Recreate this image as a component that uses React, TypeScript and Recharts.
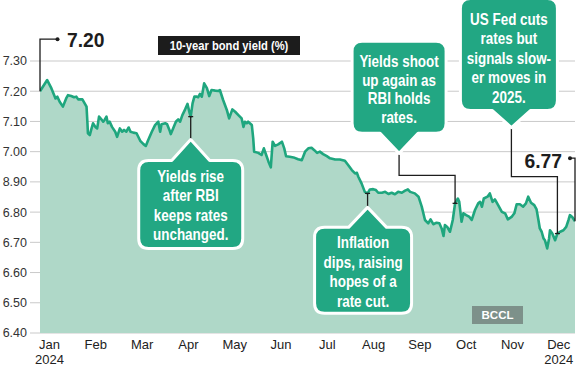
import { AreaChart, Area, XAxis, YAxis, CartesianGrid, ReferenceDot } from 'recharts';

// x position in months (0 = Jan, 11 = Dec), 10-year G-sec yield in %
const monthPos = [
  -0.205, -0.05, 0.04, 0.13, 0.17, 0.22, 0.29, 0.36, 0.40, 0.47,
  0.53, 0.58, 0.62, 0.71, 0.76, 0.80, 0.82, 0.83, 0.87, 0.90,
  0.94, 0.99, 1.03, 1.07, 1.12, 1.16, 1.19, 1.23, 1.26, 1.30,
  1.35, 1.42, 1.46, 1.52, 1.57, 1.61, 1.66, 1.71, 1.75, 1.81,
  1.88, 1.96, 2.03, 2.08, 2.13, 2.21, 2.28, 2.35, 2.39, 2.42,
  2.50, 2.54, 2.59, 2.62, 2.67, 2.73, 2.78, 2.82, 2.87, 2.93,
  2.98, 3.02, 3.05, 3.09, 3.13, 3.18, 3.21, 3.25, 3.29, 3.34,
  3.40, 3.45, 3.50, 3.58, 3.65, 3.68, 3.75, 3.83, 3.88, 3.95,
  4.01, 4.08, 4.15, 4.19, 4.22, 4.26, 4.29, 4.37, 4.40, 4.42,
  4.51, 4.58, 4.63, 4.68, 4.73, 4.78, 4.82, 4.87, 4.94, 5.02,
  5.07, 5.11, 5.19, 5.27, 5.37, 5.45, 5.52, 5.59, 5.66, 5.72,
  5.78, 5.84, 5.91, 5.99, 6.06, 6.17, 6.27, 6.38, 6.45, 6.53,
  6.60, 6.64, 6.67, 6.74, 6.81, 6.87, 6.92, 6.99, 7.05, 7.10,
  7.18, 7.25, 7.32, 7.39, 7.46, 7.53, 7.61, 7.68, 7.74, 7.79,
  7.89, 7.97, 8.04, 8.11, 8.18, 8.23, 8.29, 8.36, 8.42, 8.47,
  8.51, 8.54, 8.59, 8.65, 8.71, 8.76, 8.82, 8.85, 8.90, 8.94,
  9.00, 9.07, 9.12, 9.19, 9.26, 9.30, 9.34, 9.38, 9.46, 9.51,
  9.57, 9.62, 9.69, 9.77, 9.84, 9.90, 9.98, 10.04, 10.09, 10.16,
  10.23, 10.29, 10.34, 10.40, 10.47, 10.52, 10.56, 10.59, 10.63, 10.67,
  10.70, 10.75, 10.79, 10.81, 10.86, 10.92, 10.97, 11.03, 11.10, 11.16,
  11.21, 11.24, 11.29, 11.35,
];

const yields = [
  7.200, 7.237, 7.210, 7.176, 7.182, 7.165, 7.149, 7.176, 7.187, 7.184,
  7.180, 7.182, 7.173, 7.173, 7.160, 7.149, 7.094, 7.061, 7.055, 7.072,
  7.094, 7.082, 7.077, 7.116, 7.107, 7.099, 7.105, 7.116, 7.094, 7.099,
  7.082, 7.066, 7.049, 7.077, 7.066, 7.072, 7.066, 7.080, 7.066, 7.063,
  7.061, 7.036, 7.025, 7.019, 7.038, 7.066, 7.088, 7.099, 7.066, 7.091,
  7.094, 7.091, 7.072, 7.058, 7.077, 7.099, 7.107, 7.099, 7.121, 7.140,
  7.158, 7.132, 7.116, 7.160, 7.182, 7.182, 7.180, 7.191, 7.182, 7.226,
  7.210, 7.184, 7.204, 7.202, 7.201, 7.204, 7.171, 7.138, 7.110, 7.140,
  7.132, 7.121, 7.110, 7.082, 7.099, 7.094, 7.099, 7.088, 7.044, 7.000,
  6.996, 6.989, 7.011, 6.989, 6.967, 6.948, 7.033, 7.019, 7.024, 7.033,
  7.011, 6.985, 6.983, 6.981, 6.975, 6.972, 7.000, 7.011, 7.013, 7.005,
  6.996, 7.000, 6.992, 6.985, 6.978, 6.974, 6.974, 6.970, 6.956, 6.939,
  6.928, 6.930, 6.917, 6.895, 6.867, 6.862, 6.875, 6.876, 6.873, 6.864,
  6.864, 6.867, 6.860, 6.864, 6.859, 6.867, 6.864, 6.871, 6.875, 6.867,
  6.862, 6.851, 6.818, 6.774, 6.763, 6.776, 6.760, 6.765, 6.763, 6.746,
  6.721, 6.757, 6.751, 6.735, 6.774, 6.829, 6.845, 6.834, 6.768, 6.796,
  6.790, 6.784, 6.774, 6.807, 6.829, 6.834, 6.818, 6.845, 6.851, 6.862,
  6.834, 6.842, 6.823, 6.801, 6.796, 6.776, 6.784, 6.796, 6.826, 6.826,
  6.818, 6.829, 6.851, 6.831, 6.823, 6.809, 6.774, 6.746, 6.735, 6.713,
  6.707, 6.680, 6.713, 6.740, 6.729, 6.707, 6.729, 6.735, 6.740, 6.751,
  6.774, 6.790, 6.784, 6.770,
];

const monthTicks = [0, 1, 2, 3, 4, 5, 6, 7, 8, 9, 10, 11];
const monthLabels = ['Jan', 'Feb', 'Mar', 'Apr', 'May', 'Jun', 'Jul', 'Aug', 'Sep', 'Oct', 'Nov', 'Dec'];
const yearLabels = ['2024', '', '', '', '', '', '', '', '', '', '', '2024'];
const yTicks = [6.4, 6.5, 6.6, 6.7, 6.8, 6.9, 7.0, 7.1, 7.2, 7.3];
const yTickLabels = ['6.40', '6.50', '6.60', '6.70', '6.80', '8.90', '7.00', '7.10', '7.20', '7.30'];

// indexes of annotated points
const RISE = 62;
const INFLATION = 125;
const SHOOT = 155;
const FED = 196;
const LAST = yields.length - 1;

const data = monthPos.map((m, i) => ({ m, y: yields[i] }));

const LINE = '#1fa67e';
const FILL = '#afd8c8';
const BOX = '#22a783';
const INK = '#1d1d1d';
const SANS = "'Liberation Sans', Arial, sans-serif";
const SQUEEZE = 0.84;

function calloutPath(x: number, y: number, w: number, h: number, ax: number, ay: number, dir: 'up' | 'down') {
  const r = 10;
  const half = 19;
  let d = `M${x + r},${y}`;
  if (dir === 'up') d += ` L${ax - half},${y} L${ax},${ay} L${ax + half},${y}`;
  d += ` L${x + w - r},${y} Q${x + w},${y} ${x + w},${y + r} L${x + w},${y + h - r} Q${x + w},${y + h} ${x + w - r},${y + h}`;
  if (dir === 'down') d += ` L${ax + half},${y + h} L${ax},${ay} L${ax - half},${y + h}`;
  d += ` L${x + r},${y + h} Q${x},${y + h} ${x},${y + h - r} L${x},${y + r} Q${x},${y} ${x + r},${y} Z`;
  return d;
}

interface CalloutCfg {
  stem: [number, number][];
  box: { x: number; y: number; w: number; h: number };
  dir: 'up' | 'down';
  lines: string[];
  first: number;
  gap: number;
}

function Callout({ cx, cy, cfg }: { cx: number; cy: number; cfg: CalloutCfg }) {
  const pts = cfg.stem.map(([dx, dy]) => [cx + dx, cy + dy]);
  const [ax, ay] = pts[pts.length - 1];
  const bx = cx + cfg.box.x;
  const by = cy + cfg.box.y;
  const mid = bx + cfg.box.w / 2;
  return (
    <g>
      <polyline points={pts.map((p) => p.join(',')).join(' ')} fill="none" stroke={INK} strokeWidth={1.3} />
      <line x1={cx - 2.5} x2={cx + 2.5} y1={cy} y2={cy} stroke={INK} strokeWidth={1.3} />
      <path d={calloutPath(bx, by, cfg.box.w, cfg.box.h, ax, ay, cfg.dir)} fill={BOX} stroke="#fff" strokeWidth={3} strokeLinejoin="round" />
      <text
        transform={`translate(${mid},${by}) scale(${SQUEEZE},1)`}
        fill="#fff"
        fontFamily={SANS}
        fontWeight={700}
        fontSize={16}
        textAnchor="middle"
      >
        {cfg.lines.map((l, i) => (
          <tspan key={i} x={0} y={cfg.first + i * cfg.gap}>{l}</tspan>
        ))}
      </text>
    </g>
  );
}

const riseCfg: CalloutCfg = {
  stem: [[0, 0], [0, 23]],
  box: { x: -52, y: 44, w: 104, h: 88 },
  dir: 'up',
  lines: ['Yields rise', 'after RBI', 'keeps rates', 'unchanged.'],
  first: 21,
  gap: 19.5,
};
const inflationCfg: CalloutCfg = {
  stem: [[0, 0], [0, 14]],
  box: { x: -53, y: 34, w: 97, h: 86 },
  dir: 'up',
  lines: ['Inflation', 'dips, raising', 'hopes of a', 'rate cut.'],
  first: 21,
  gap: 19.5,
};
const shootCfg: CalloutCfg = {
  stem: [[0, 0], [0, -28], [-56, -28], [-56, -50]],
  box: { x: -103, y: -162, w: 94, h: 92 },
  dir: 'down',
  lines: ['Yields shoot', 'up again as', 'RBI holds', 'rates.'],
  first: 26,
  gap: 18.5,
};
const fedCfg: CalloutCfg = {
  stem: [[0, 0], [0, -57], [-46, -57], [-46, -106]],
  box: { x: -97, y: -235, w: 97, h: 112 },
  dir: 'down',
  lines: ['US Fed cuts', 'rates but', 'signals slow-', 'er moves in', '2025.'],
  first: 26,
  gap: 19.5,
};

function FirstLabel({ cx, cy }: { cx: number; cy: number }) {
  return (
    <g>
      <polyline points={`${cx},${cy} ${cx},${cy - 52} ${cx + 17},${cy - 52}`} fill="none" stroke={INK} strokeWidth={1.3} />
      <circle cx={cx + 17.5} cy={cy - 52} r={2} fill={INK} />
      <text transform={`translate(${cx + 27},${cy - 44}) scale(0.92,1)`} fill={INK} fontFamily={SANS} fontWeight={700} fontSize={21}>7.20</text>
    </g>
  );
}

function LastLabel({ cx, cy }: { cx: number; cy: number }) {
  return (
    <g>
      <polyline points={`${cx},${cy} ${cx},${cy - 63} ${cx - 5},${cy - 63}`} fill="none" stroke={INK} strokeWidth={1.3} />
      <circle cx={cx - 5} cy={cy - 63} r={2} fill={INK} />
      <text transform={`translate(${cx - 13},${cy - 53}) scale(0.92,1)`} fill={INK} fontFamily={SANS} fontWeight={700} fontSize={21} textAnchor="end">6.77</text>
    </g>
  );
}

function MonthTick({ x, y, payload }: any) {
  const i = payload.value as number;
  return (
    <text x={x} y={y + 16} fill="#222" fontFamily={SANS} fontSize={13} textAnchor="middle">
      <tspan x={x}>{monthLabels[i]}</tspan>
      {yearLabels[i] && <tspan x={x} dy={15}>{yearLabels[i]}</tspan>}
    </text>
  );
}

export default function App() {
  return (
    <div style={{ position: 'absolute', left: 0, top: 0, width: 583, height: 368, background: '#fff' }}>
      <AreaChart width={583} height={368} data={data} margin={{ top: 61, right: 8, bottom: 0, left: 0 }}>
        <CartesianGrid vertical={false} stroke="#c9c9c9" />
        <XAxis
          dataKey="m"
          type="number"
          domain={[-0.205, 11.35]}
          allowDataOverflow
          ticks={monthTicks}
          axisLine={false}
          tickLine={false}
          tickSize={0}
          tickMargin={0}
          height={35}
          interval={0}
          tick={<MonthTick />}
        />
        <YAxis
          type="number"
          domain={[6.4, 7.3]}
          allowDataOverflow
          ticks={yTicks}
          width={40}
          axisLine={false}
          tickSize={10}
          tickMargin={3}
          tickLine={{ stroke: '#c9c9c9' }}
          tick={{ fill: '#333', fontSize: 12.5, fontFamily: SANS }}
          tickFormatter={(v: number) => yTickLabels[yTicks.findIndex((t) => Math.abs(t - v) < 1e-6)]}
          interval={0}
        />
        <Area
          type="linear"
          dataKey="y"
          stroke={LINE}
          strokeWidth={2.6}
          strokeLinejoin="round"
          fill={FILL}
          fillOpacity={1}
          dot={false}
          activeDot={false}
          isAnimationActive={false}
        />
        <ReferenceDot x={monthPos[0]} y={yields[0]} shape={(p: any) => <FirstLabel cx={p.cx} cy={p.cy} />} />
        <ReferenceDot x={monthPos[LAST]} y={yields[LAST]} shape={(p: any) => <LastLabel cx={p.cx} cy={p.cy} />} />
        <ReferenceDot x={monthPos[RISE]} y={yields[RISE]} shape={(p: any) => <Callout cx={p.cx} cy={p.cy} cfg={riseCfg} />} />
        <ReferenceDot x={monthPos[INFLATION]} y={yields[INFLATION]} shape={(p: any) => <Callout cx={p.cx} cy={p.cy} cfg={inflationCfg} />} />
        <ReferenceDot x={monthPos[SHOOT]} y={yields[SHOOT]} shape={(p: any) => <Callout cx={p.cx} cy={p.cy} cfg={shootCfg} />} />
        <ReferenceDot x={monthPos[FED]} y={yields[FED]} shape={(p: any) => <Callout cx={p.cx} cy={p.cy} cfg={fedCfg} />} />
      </AreaChart>
      <div
        style={{
          position: 'absolute', left: 158, top: 36, width: 142, height: 19, background: '#1c1c1c',
          color: '#fff', fontFamily: SANS, fontWeight: 700, fontSize: 13, lineHeight: '19px', textAlign: 'center',
          overflow: 'hidden', whiteSpace: 'nowrap',
        }}
      >
        <span style={{ display: 'inline-block', transform: 'scaleX(0.86)', transformOrigin: 'center' }}>
          10-year bond yield (%)
        </span>
      </div>
      <div
        style={{
          position: 'absolute', left: 472, top: 306, width: 51, height: 18, background: '#7d918a',
          color: '#fff', fontFamily: SANS, fontWeight: 700, fontSize: 11.5, lineHeight: '18px', textAlign: 'center',
        }}
      >
        BCCL
      </div>
    </div>
  );
}
